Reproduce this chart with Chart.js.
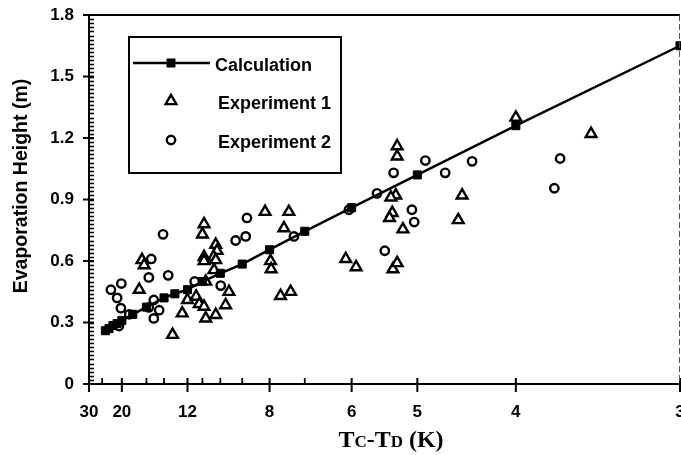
<!DOCTYPE html>
<html>
<head>
<meta charset="utf-8">
<script src="https://cdn.jsdelivr.net/npm/chart.js@4.4.1/dist/chart.umd.min.js"></script>
<style>
  html, body { margin: 0; padding: 0; background: #fff; }
  canvas { display: block; }
</style>
</head>
<body>
<canvas id="chart" width="681" height="455"></canvas>
<script>
// temperature difference Tc-Td (K) and evaporation height (m)
const calcDt = [3, 4, 5, 6, 7, 8, 9, 10, 11, 12, 13, 14, 16, 18, 20, 21, 22, 23, 24];
const calcH  = [1.65, 1.26, 1.02, 0.86, 0.745, 0.655, 0.585, 0.54, 0.5, 0.46, 0.44, 0.42, 0.375, 0.34, 0.31, 0.295, 0.285, 0.27, 0.26];

const exp1Dt = [4.0, 3.47, 5.27, 5.27, 4.49, 4.53, 5.29, 5.36, 5.34, 5.38, 5.19, 5.33, 5.27, 6.11, 5.92,
                7.42, 8.15, 7.56, 7.37, 7.66, 7.97, 7.95, 10.9, 11.0, 10.24, 10.17, 10.9, 10.9, 10.35, 10.24,
                16.6, 16.3, 17.0, 10.33, 10.8, 12.0, 11.4, 11.2, 10.9, 10.8, 10.24, 12.4, 9.58, 9.74, 13.2];
const exp1H  = [1.30, 1.22, 1.16, 1.11, 0.92, 0.80, 0.92, 0.91, 0.835, 0.81, 0.755, 0.56, 0.59, 0.61, 0.57,
                0.84, 0.84, 0.76, 0.45, 0.43, 0.60, 0.56, 0.78, 0.73, 0.68, 0.65, 0.62, 0.60, 0.62, 0.605,
                0.605, 0.58, 0.46, 0.556, 0.50, 0.41, 0.426, 0.39, 0.377, 0.32, 0.337, 0.345, 0.45, 0.385, 0.24];

const exp2Dt = [3.67, 3.71, 4.39, 4.90, 4.67, 5.32, 5.57, 5.07, 5.04, 5.45, 6.05, 7.28, 8.81, 9.28, 8.86,
                14.1, 15.4, 13.6, 22.5, 20.1, 21.0, 20.2, 18.6, 15.7, 15.1, 15.7, 15.1, 14.5, 20.6, 11.5, 9.98];
const exp2H  = [1.10, 0.955, 1.086, 1.09, 1.03, 1.03, 0.93, 0.85, 0.79, 0.65, 0.85, 0.72, 0.81, 0.70, 0.72,
                0.73, 0.61, 0.53, 0.46, 0.49, 0.42, 0.37, 0.34, 0.52, 0.41, 0.374, 0.32, 0.36, 0.283, 0.50, 0.48];

const xTickLabels = [30, 20, 12, 8, 6, 5, 4, 3];
const xMinorTicks = [25, 16, 14, 11, 10, 9, 7];
const yTickValues = [0, 0.3, 0.6, 0.9, 1.2, 1.5, 1.8];

const legendItems = ['Calculation', 'Experiment 1', 'Experiment 2'];
const yTitle = 'Evaporation Height (m)';

// the x axis runs linear in 1/(Tc-Td)
const toPoints = (dt, h) => dt.map((d, i) => ({ x: 1 / d, y: h[i] }));

const SANS = 'Arial, "Liberation Sans", sans-serif';
const SERIF = '"Times New Roman", "Liberation Serif", serif';
const sansBold = (size) => ({ family: SANS, size: size, weight: 'bold' });

const decor = {
    id: 'decor',
    afterDraw(chart) {
        const ctx = chart.ctx;
        const xs = chart.scales.x, ys = chart.scales.y;
        const area = chart.chartArea;
        const line = (x1, y1, x2, y2) => { ctx.beginPath(); ctx.moveTo(x1, y1); ctx.lineTo(x2, y2); ctx.stroke(); };

        ctx.save();
        ctx.strokeStyle = '#000';

        // x ticks: major ones cross the axis, minor ones point inward
        ctx.lineWidth = 2;
        xTickLabels.forEach(t => {
            const px = xs.getPixelForValue(1 / t);
            line(px, area.bottom - 6, px, area.bottom + 8);
        });
        ctx.lineWidth = 1.8;
        xMinorTicks.forEach(t => {
            const px = xs.getPixelForValue(1 / t);
            line(px, area.bottom - 6, px, area.bottom);
        });

        // y ticks
        ctx.lineWidth = 2;
        yTickValues.forEach(v => {
            const py = ys.getPixelForValue(v);
            line(area.left - 6, py, area.left + 5, py);
        });
        ctx.lineWidth = 1.6;
        for (let i = 1; i < 90; i++) {
            const py = Math.round(ys.getPixelForValue(i * 0.02)) + 0.5;
            line(area.left, py, area.left + 5, py);
        }

        // frame top and right
        ctx.lineWidth = 2;
        line(area.left - 6, area.top, area.right, area.top);
        ctx.lineWidth = 1;
        ctx.strokeStyle = '#555';
        ctx.setLineDash([6, 3]);
        line(area.right - 0.5, area.top, area.right - 0.5, area.bottom);
        ctx.setLineDash([]);

        // y axis title
        ctx.fillStyle = '#000';
        ctx.save();
        ctx.translate(22, 186);
        ctx.rotate(-Math.PI / 2);
        ctx.font = 'bold 19.5px ' + SANS;
        ctx.textAlign = 'center';
        ctx.textBaseline = 'middle';
        ctx.fillText(yTitle, 0, 0);
        ctx.restore();

        // x axis title with small-cap subscripts
        const parts = [
            ['T', 24], ['C', 17], ['-', 24], ['T', 24], ['D', 17], [' (K)', 24]
        ];
        ctx.textBaseline = 'alphabetic';
        ctx.textAlign = 'left';
        let total = 0;
        parts.forEach(p => {
            ctx.font = 'bold ' + p[1] + 'px ' + SERIF;
            total += ctx.measureText(p[0]).width;
        });
        let tx = 391 - total / 2;
        parts.forEach(p => {
            ctx.font = 'bold ' + p[1] + 'px ' + SERIF;
            ctx.fillText(p[0], tx, 447);
            tx += ctx.measureText(p[0]).width;
        });

        // legend box
        ctx.strokeStyle = '#000';
        ctx.lineWidth = 2;
        ctx.strokeRect(129, 37, 212, 136);

        ctx.lineWidth = 2.5;
        line(133, 63, 210, 63);
        ctx.fillStyle = '#000';
        ctx.lineWidth = 1;
        Chart.helpers.drawPoint(ctx, { pointStyle: 'rect', radius: 5.7, borderWidth: 1 }, 171, 63);

        ctx.fillStyle = '#fff';
        ctx.lineWidth = 2.4;
        Chart.helpers.drawPoint(ctx, { pointStyle: 'triangle', radius: 6.2, borderWidth: 2.4 }, 171, 101);
        Chart.helpers.drawPoint(ctx, { pointStyle: 'circle', radius: 4.2, borderWidth: 2.4 }, 171, 140);

        ctx.fillStyle = '#000';
        ctx.font = 'bold 18px ' + SANS;
        ctx.textBaseline = 'middle';
        ctx.fillText(legendItems[0], 215, 66);
        ctx.fillText(legendItems[1], 218, 104);
        ctx.fillText(legendItems[2], 218, 143);
        ctx.restore();
    }
};

new Chart(document.getElementById('chart'), {
    type: 'scatter',
    data: {
        datasets: [
            {
                label: legendItems[0],
                data: toPoints(calcDt, calcH),
                showLine: true,
                borderColor: '#000',
                borderWidth: 2.5,
                backgroundColor: '#000',
                pointStyle: 'rect',
                pointRadius: 5.7,
                pointBorderWidth: 1,
                clip: false
            },
            {
                label: legendItems[1],
                data: toPoints(exp1Dt, exp1H),
                borderColor: '#000',
                backgroundColor: '#fff',
                pointStyle: 'triangle',
                pointRadius: 6.2,
                pointBorderWidth: 2.4,
                clip: false
            },
            {
                label: legendItems[2],
                data: toPoints(exp2Dt, exp2H),
                borderColor: '#000',
                backgroundColor: '#fff',
                pointStyle: 'circle',
                pointRadius: 4.2,
                pointBorderWidth: 2.4,
                clip: false
            }
        ]
    },
    options: {
        responsive: false,
        animation: false,
        devicePixelRatio: 1,
        layout: { autoPadding: false, padding: { top: 15, right: 1, left: 0, bottom: 0 } },
        plugins: { legend: { display: false }, tooltip: { enabled: false } },
        scales: {
            x: {
                type: 'linear',
                min: 1 / 30,
                max: 1 / 3,
                afterBuildTicks(scale) {
                    scale.ticks = xTickLabels.map(t => ({ value: 1 / t }));
                },
                afterFit(scale) {
                    scale.height = 71;
                    scale.paddingLeft = 0;
                    scale.paddingRight = 0;
                },
                grid: { drawOnChartArea: false, drawTicks: false },
                border: { color: '#000', width: 2 },
                ticks: {
                    padding: 18,
                    color: '#000',
                    font: sansBold(17),
                    maxRotation: 0,
                    autoSkip: false,
                    callback: (v) => String(Math.round(1 / v))
                }
            },
            y: {
                type: 'linear',
                min: 0,
                max: 1.8,
                afterBuildTicks(scale) {
                    scale.ticks = yTickValues.map(v => ({ value: v }));
                },
                afterFit(scale) {
                    scale.width = 89;
                    scale.paddingTop = 0;
                    scale.paddingBottom = 0;
                },
                grid: { drawOnChartArea: false, drawTicks: false },
                border: { color: '#000', width: 2 },
                ticks: {
                    padding: 15,
                    color: '#000',
                    font: sansBold(17),
                    callback: (v) => v === 0 ? '0' : v.toFixed(1)
                }
            }
        }
    },
    plugins: [decor]
});
</script>
</body>
</html>
